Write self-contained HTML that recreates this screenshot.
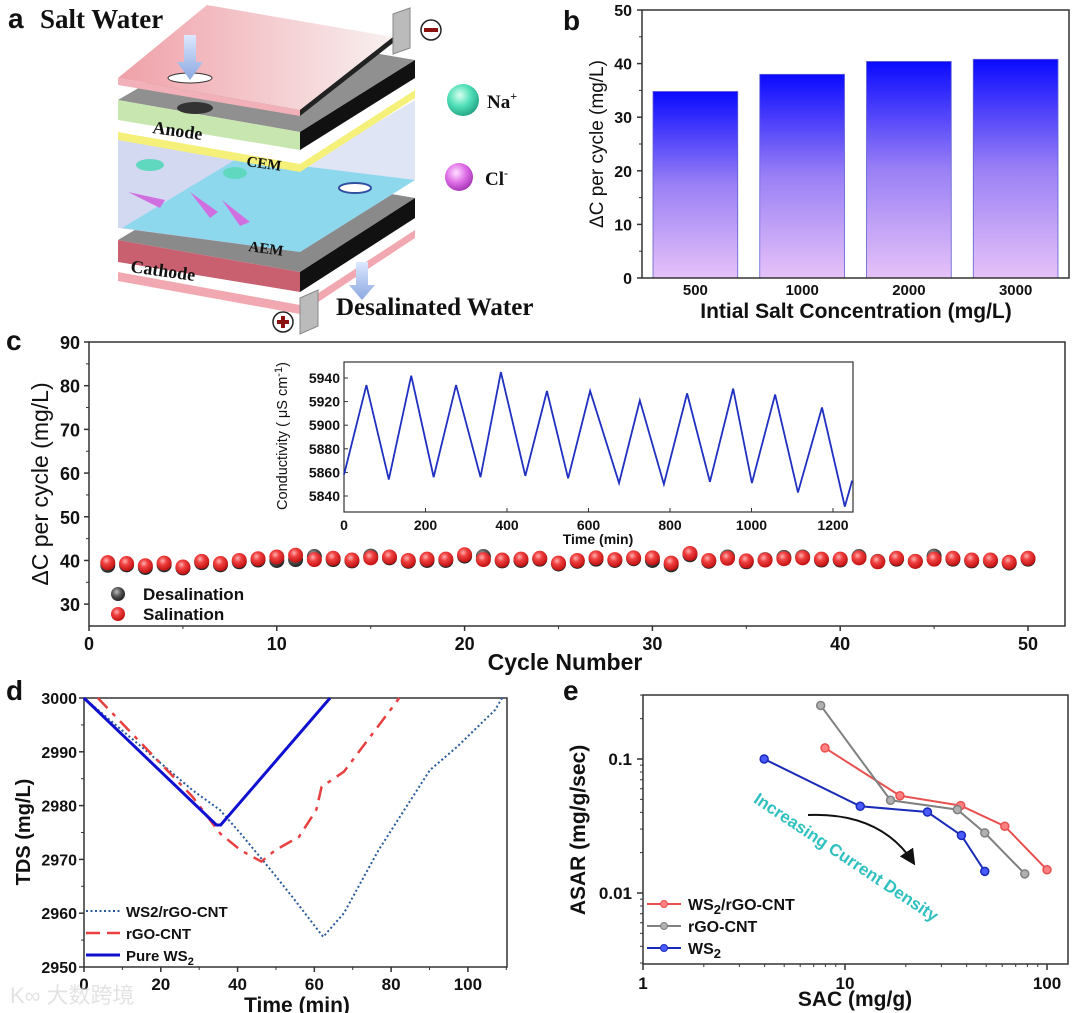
<!DOCTYPE html>
<html><head><meta charset="utf-8"><style>
html,body{margin:0;padding:0;background:#fff}
svg{display:block;font-family:"Liberation Sans",Arial,sans-serif}
.t{font-weight:bold;fill:#111}
.serif{font-family:"Liberation Serif",serif;font-weight:bold;fill:#111}
</style></head><body>
<svg id="s" width="1080" height="1013" viewBox="0 0 1080 1013">
<defs>
<linearGradient id="barg" x1="0" y1="0" x2="0" y2="1"><stop offset="0" stop-color="#0a0aff"/><stop offset="0.5" stop-color="#9a80f5"/><stop offset="1" stop-color="#e6c2f8"/></linearGradient>
<radialGradient id="redb" cx="0.4" cy="0.35" r="0.65"><stop offset="0" stop-color="#ffb0b0"/><stop offset="0.4" stop-color="#f04040"/><stop offset="1" stop-color="#c01010"/></radialGradient>
<radialGradient id="grayb" cx="0.4" cy="0.35" r="0.65"><stop offset="0" stop-color="#bbb"/><stop offset="0.5" stop-color="#555"/><stop offset="1" stop-color="#222"/></radialGradient>
<radialGradient id="nab" cx="0.4" cy="0.35" r="0.7"><stop offset="0" stop-color="#d8fff0"/><stop offset="0.5" stop-color="#50e0b8"/><stop offset="1" stop-color="#20a080"/></radialGradient>
<radialGradient id="clb" cx="0.4" cy="0.35" r="0.7"><stop offset="0" stop-color="#ffe0ff"/><stop offset="0.5" stop-color="#e070e8"/><stop offset="1" stop-color="#a030b0"/></radialGradient>
<linearGradient id="pinkg" x1="0" y1="0" x2="1" y2="0"><stop offset="0" stop-color="#f0a0a8"/><stop offset="1" stop-color="#f8f0f0"/></linearGradient>
<linearGradient id="arrg" x1="0" y1="0" x2="0" y2="1"><stop offset="0" stop-color="#dde8ff"/><stop offset="1" stop-color="#8aa8e0"/></linearGradient>
<marker id="ah" markerWidth="8" markerHeight="8" refX="6" refY="4" orient="auto"><path d="M0,0 L8,4 L0,8 Z" fill="#111"/></marker>
</defs>

<g>
<text x="8" y="28" class="t" font-size="28">a</text>
<text x="40" y="28" class="serif" font-size="27">Salt Water</text>
<polygon points="118,272 300,305 415,230 415,238 300,314 118,281" fill="#f2a8b0"/>
<polygon points="118,240 300,272 415,198 238,168" fill="#8a8a8a"/>
<polygon points="118,240 300,272 300,292 118,262" fill="#c86070"/>
<polygon points="300,272 415,198 415,218 300,292" fill="#111"/>
<polygon points="118,140 300,168 300,252 118,228" fill="#c8d0ee" opacity="0.8"/>
<polygon points="300,168 415,100 415,180 300,252" fill="#dde2f5" opacity="0.9"/>
<polygon points="122,228 300,252 415,180 238,158" fill="#8ed8ee"/>
<ellipse cx="355" cy="188" rx="16" ry="5" fill="#fff" stroke="#3050a0" stroke-width="2"/>
<text x="248" y="251" class="serif" font-size="15" transform="rotate(8 248 251)">AEM</text>
<polygon points="118,132 300,164 415,90 415,98 300,172 118,140" fill="#f5f07a"/>
<text x="246" y="166" class="serif" font-size="15" transform="rotate(8 246 166)">CEM</text>
<polygon points="118,100 300,132 415,60 238,30" fill="#909090"/>
<polygon points="118,100 300,132 300,150 118,120" fill="#c8e6b0"/>
<polygon points="300,132 415,60 415,78 300,150" fill="#111"/>
<ellipse cx="195" cy="108" rx="18" ry="6" fill="#333"/>
<text x="152" y="133" class="serif" font-size="18" transform="rotate(8 152 133)">Anode</text>
<text x="130" y="272" class="serif" font-size="18" transform="rotate(8 130 272)">Cathode</text>
<ellipse cx="150" cy="165" rx="14" ry="6" fill="#60d8c0"/>
<ellipse cx="235" cy="173" rx="12" ry="6" fill="#60d8c0"/>
<path d="M128,192 L165,200 L160,208 Z" fill="#d070e0"/>
<path d="M190,192 L218,212 L210,218 Z" fill="#d070e0"/>
<path d="M222,200 L250,222 L240,226 Z" fill="#d070e0"/>
<polygon points="118,78 300,110 393,37 207,5" fill="url(#pinkg)"/>
<polygon points="118,78 300,110 300,116 118,85" fill="#f2b0b8"/>
<polygon points="300,110 393,37 393,43 300,116" fill="#222"/>
<ellipse cx="190" cy="78" rx="22" ry="5" fill="#fff" stroke="#333"/>
<polygon points="184,35 196,35 196,62 203,62 190,80 177,62 184,62" fill="url(#arrg)"/>
<polygon points="356,262 368,262 368,285 375,285 362,300 349,285 356,285" fill="url(#arrg)"/>
<polygon points="393,14 410,8 410,48 393,54" fill="#bbb" stroke="#888"/>
<circle cx="431" cy="30" r="10" fill="#fff" stroke="#222" stroke-width="1.5"/>
<rect x="424" y="28" width="14" height="4" fill="#8b1010"/>
<polygon points="300,298 318,290 318,326 300,334" fill="#bbb" stroke="#888"/>
<circle cx="283" cy="322" r="10" fill="#fff" stroke="#222" stroke-width="1.5"/>
<rect x="277" y="320" width="12" height="4" fill="#8b1010"/><rect x="281" y="316" width="4" height="12" fill="#8b1010"/>
<text x="336" y="315" class="serif" font-size="25">Desalinated Water</text>
<circle cx="463" cy="100" r="16" fill="url(#nab)"/>
<text x="487" y="108" class="serif" font-size="19" font-weight="normal">Na<tspan font-size="12" dy="-8">+</tspan></text>
<circle cx="459" cy="177" r="14" fill="url(#clb)"/>
<text x="485" y="185" class="serif" font-size="19" font-weight="normal">Cl<tspan font-size="12" dy="-8">-</tspan></text>
</g>

<g id="pb"></g>
<g id="pc"></g>
<g id="pd"></g>
<g id="pe"></g>
<text x="10" y="1003" font-size="22" fill="#ddd" opacity="0.8" font-family="'Liberation Sans','Noto Sans CJK SC',sans-serif">K∞ 大数跨境</text>
</svg>
<script>
const bCategories = ["500","1000","2000","3000"];
const bValues = [34.8, 38.0, 40.4, 40.8];
const bTicks = [0,10,20,30,40,50];

const cCycles = [1,2,3,4,5,6,7,8,9,10,11,12,13,14,15,16,17,18,19,20,21,22,23,24,25,26,27,28,29,30,31,32,33,34,35,36,37,38,39,40,41,42,43,44,45,46,47,48,49,50];
const cSalination = [39.5,39.3,38.8,39.4,38.5,39.8,39.3,40.0,40.4,40.8,41.2,40.2,40.5,40.1,40.6,40.8,40.0,40.3,40.3,41.3,40.2,40.1,40.3,40.5,39.4,40.0,40.6,40.2,40.6,40.6,39.4,41.6,40.0,40.5,39.9,40.1,40.4,40.6,40.3,40.3,40.6,39.7,40.5,39.8,40.3,40.5,40.1,40.1,39.6,40.5];
const cDesalination = [38.9,39.0,38.4,39.0,38.3,39.5,39.0,39.7,40.1,40.0,40.2,40.9,40.2,39.9,41.0,40.6,39.8,40.0,40.0,41.0,40.9,39.9,40.0,40.3,39.2,39.8,40.3,40.0,40.4,40.0,39.0,41.3,39.8,40.8,39.7,40.2,40.7,40.8,40.1,40.1,40.9,39.8,40.3,39.8,41.0,40.3,39.9,39.9,39.4,40.3];
const cTicksY = [30,40,50,60,70,80,90];
const cTicksX = [0,10,20,30,40,50];

const insetTime = [0,55,110,165,220,275,335,385,445,498,550,604,675,726,785,842,898,955,1001,1058,1114,1173,1229,1247];
const insetCond = [5858,5934,5854,5942,5856,5934,5856,5945,5857,5929,5855,5929,5851,5921,5850,5927,5852,5931,5851,5926,5843,5915,5831,5853];
const insetTicksY = [5840,5860,5880,5900,5920,5940];
const insetTicksX = [0,200,400,600,800,1000,1200];

const dWsT = [0,28.2,35.4,40.8,48,54.3,62.3,67.7,76.7,90.1,97.3,107.1,108.9];
const dWsV = [3000,2982.9,2979.2,2974.8,2968.6,2963,2955.6,2960,2971.7,2986.6,2991,2997.8,3000];
const dRgoT = [3.6,28.2,35.5,40.8,46.2,49.8,56.0,60.5,61.9,67.7,81.2,82.1];
const dRgoV = [3000,2981.7,2974.8,2971.7,2969.6,2971.7,2974.2,2979.2,2983.5,2986.3,2999.1,3000];
const dPureT = [0,34.5,35.6,64.1];
const dPureV = [3000,2976.4,2976.4,3000];
const dTicksY = [2950,2960,2970,2980,2990,3000];
const dTicksX = [0,20,40,60,80,100];

const eRedX = [7.96,18.7,37.4,61.8,100];
const eRedY = [0.121,0.0532,0.0449,0.0315,0.0149];
const eGrayX = [7.58,16.8,36.0,49.2,77.6];
const eGrayY = [0.251,0.0492,0.0419,0.0281,0.0139];
const eBlueX = [3.98,11.9,25.6,37.7,49.2];
const eBlueY = [0.1,0.0444,0.0402,0.0269,0.0145];
const eTicksX = [1,10,100];
const eTicksY = [0.01,0.1];

const NS="http://www.w3.org/2000/svg";
function mk(parent,tag,attrs,txt){const e=document.createElementNS(NS,tag);for(const k in attrs)e.setAttribute(k,attrs[k]);if(txt!==undefined)e.textContent=txt;parent.appendChild(e);return e;}

(function(){
const g=document.getElementById('pb');
const L=642,T=10,R=1069,B=278;
const y=v=>B-(v/50)*(B-T);
const bw=(R-L)/4;
let e=mk(g,'text',{x:563,y:30,'font-size':28,class:'t'},'b');


bCategories.forEach((c,i)=>{
 const x0=L+11+i*bw, w=bw-22;
 const r=mk(g,'rect',{x:x0,y:y(bValues[i]),width:w,height:B-y(bValues[i]),fill:'url(#barg)',stroke:'#6060d0','stroke-width':0.8});
 
 
 const t=mk(g,'text',{x:x0+w/2,y:B+17,'font-size':15,class:'t','text-anchor':'middle'},c);
 
 
});
const fr=mk(g,'rect',{x:L,y:T,width:R-L,height:B-T,fill:'none',stroke:'#333','stroke-width':1.5});


bTicks.forEach(v=>{
 mk(g,'line',{x1:L-5,x2:L,y1:y(v),y2:y(v),stroke:'#333','stroke-width':1.5});
 if(v<50) mk(g,'line',{x1:L-3,x2:L,y1:y(v+5),y2:y(v+5),stroke:'#333'});
 const t=mk(g,'text',{x:L-10,y:y(v)+6,'font-size':16,class:'t','text-anchor':'end'},v);
 
 
});
let xt=mk(g,'text',{x:856,y:318,'font-size':21,class:'t','text-anchor':'middle'},'Intial Salt Concentration (mg/L)');


let yt=mk(g,'text',{x:0,y:0,'font-size':19,fill:'#111','text-anchor':'middle',transform:'translate(603,144) rotate(-90)'},'ΔC per cycle (mg/L)');


})();

(function(){
const g=document.getElementById('pc');
const L=89,T=342,R=1065,B=626;
const x=v=>L+v*18.78;
const y=v=>B-(v-25)/65*(B-T);
let e=mk(g,'text',{x:6,y:350,'font-size':28,class:'t'},'c');


const fr=mk(g,'rect',{x:L,y:T,width:R-L,height:B-T,fill:'none',stroke:'#333','stroke-width':1.5});


cTicksY.forEach(v=>{
 mk(g,'line',{x1:L-5,x2:L,y1:y(v),y2:y(v),stroke:'#333','stroke-width':1.5});
 if(v<90) mk(g,'line',{x1:L-3,x2:L,y1:y(v+5),y2:y(v+5),stroke:'#333'});
 const t=mk(g,'text',{x:L-9,y:y(v)+7,'font-size':18,class:'t','text-anchor':'end'},v);
 
 
});
cTicksX.forEach(v=>{
 mk(g,'line',{x1:x(v),x2:x(v),y1:B,y2:B+5,stroke:'#333','stroke-width':1.5});
 if(v<50) mk(g,'line',{x1:x(v+5),x2:x(v+5),y1:B,y2:B+3,stroke:'#333'});
 const t=mk(g,'text',{x:x(v),y:B+24,'font-size':18,class:'t','text-anchor':'middle'},v);
 
 
});
let xt=mk(g,'text',{x:565,y:670,'font-size':23,class:'t','text-anchor':'middle'},'Cycle Number');


let yt=mk(g,'text',{x:0,y:0,'font-size':23,fill:'#111','text-anchor':'middle',transform:'translate(48,484) rotate(-90)'},'ΔC per cycle (mg/L)');


cCycles.forEach((c,i)=>{
 const d=mk(g,'circle',{cx:x(c),cy:y(cDesalination[i]),r:7.5,fill:'url(#grayb)'});
 
 
});
cCycles.forEach((c,i)=>{
 const d=mk(g,'circle',{cx:x(c),cy:y(cSalination[i]),r:7.5,fill:'url(#redb)'});
 
 
});
let l1=mk(g,'circle',{cx:118,cy:594,r:7,fill:'url(#grayb)'});


let l1t=mk(g,'text',{x:143,y:600,'font-size':17,class:'t'},'Desalination');


let l2=mk(g,'circle',{cx:118,cy:614,r:7,fill:'url(#redb)'});


let l2t=mk(g,'text',{x:143,y:620,'font-size':17,class:'t'},'Salination');


const iL=344,iT=362,iR=853,iB=512;
const ix=v=>iL+v*0.4075;
const iy=v=>496-(v-5840)*1.18;
const ifr=mk(g,'rect',{x:iL,y:iT,width:iR-iL,height:iB-iT,fill:'#fff',stroke:'#333','stroke-width':1.2});


insetTicksY.forEach(v=>{
 mk(g,'line',{x1:iL,x2:iL+4,y1:iy(v),y2:iy(v),stroke:'#333'});
 const t=mk(g,'text',{x:iL-4,y:iy(v)+5,'font-size':14,class:'t','text-anchor':'end'},v);
 
 
});
insetTicksX.forEach(v=>{
 mk(g,'line',{x1:ix(v),x2:ix(v),y1:iB,y2:iB-4,stroke:'#333'});
 const t=mk(g,'text',{x:ix(v),y:iB+18,'font-size':14,class:'t','text-anchor':'middle'},v);
 
 
});
let ipl=mk(g,'polyline',{points:insetTime.map((t,i)=>ix(t)+','+iy(insetCond[i])).join(' '),fill:'none',stroke:'#2030c0','stroke-width':1.8});


let ixt=mk(g,'text',{x:598,y:544,'font-size':14,class:'t','text-anchor':'middle'},'Time (min)');


let iyt=mk(g,'text',{x:0,y:0,'font-size':14.5,fill:'#111','text-anchor':'middle',transform:'translate(287,436) rotate(-90)'});
iyt.innerHTML='Conductivity ( μS cm<tspan dy="-5" font-size="11">-1</tspan><tspan dy="5">)</tspan>';


})();

(function(){
const g=document.getElementById('pd');
const L=84,T=698,R=507,B=967;
const x=v=>L+v*3.839;
const y=v=>T+(3000-v)*(B-T)/50;
let e=mk(g,'text',{x:6,y:700,'font-size':28,class:'t'},'d');


const fr=mk(g,'rect',{x:L,y:T,width:R-L,height:B-T,fill:'none',stroke:'#333','stroke-width':1.5});


dTicksY.forEach(v=>{
 mk(g,'line',{x1:L-5,x2:L,y1:y(v),y2:y(v),stroke:'#333','stroke-width':1.5});
 if(v<3000) mk(g,'line',{x1:L-3,x2:L,y1:y(v+5),y2:y(v+5),stroke:'#333'});
 const t=mk(g,'text',{x:L-7,y:y(v)+6,'font-size':16,class:'t','text-anchor':'end'},v);
 
 
});
dTicksX.forEach(v=>{
 mk(g,'line',{x1:x(v),x2:x(v),y1:B,y2:B+5,stroke:'#333','stroke-width':1.5});
 mk(g,'line',{x1:x(v+10),x2:x(v+10),y1:B,y2:B+3,stroke:'#333'});
 const t=mk(g,'text',{x:x(v),y:B+23,'font-size':17,class:'t','text-anchor':'middle'},v);
 
 
});
let xt=mk(g,'text',{x:297,y:1012,'font-size':21,class:'t','text-anchor':'middle'},'Time (min)');


let yt=mk(g,'text',{x:0,y:0,'font-size':20,class:'t','text-anchor':'middle',transform:'translate(30,832) rotate(-90)'},'TDS (mg/L)');


const pts=(a,b)=>a.map((t,i)=>x(t)+','+y(b[i])).join(' ');
let s1=mk(g,'polyline',{points:pts(dWsT,dWsV),fill:'none',stroke:'#2a5a9a','stroke-width':2,'stroke-dasharray':'2 2.5'});


let s2=mk(g,'polyline',{points:pts(dRgoT,dRgoV),fill:'none',stroke:'#e84040','stroke-width':2.5,'stroke-dasharray':'14 7 4 7'});


let s3=mk(g,'polyline',{points:pts(dPureT,dPureV),fill:'none',stroke:'#1010d0','stroke-width':3});


const leg=[['WS2/rGO-CNT','#2a5a9a','2 2.5',2],['rGO-CNT','#e84040','14 7',2.5],['Pure WS',"#1010d0",'',3]];
leg.forEach((l,i)=>{
 const yy=911+i*22;
 const ln=mk(g,'line',{x1:86,x2:120,y1:yy,y2:yy,stroke:l[1],'stroke-width':l[3],'stroke-dasharray':l[2]});
 
 
 const t=mk(g,'text',{x:126,y:yy+6,'font-size':15,class:'t'},l[0]);
 if(i===2){mk(t,'tspan',{dy:4,'font-size':11},'2');}
 
 
});
})();

(function(){
const g=document.getElementById('pe');
const L=643,T=695,R=1068,B=964;
const x=v=>L+Math.log10(v)*202;
const y=v=>759-(Math.log10(v)+1)*134;
let e=mk(g,'text',{x:563,y:700,'font-size':28,class:'t'},'e');


const fr=mk(g,'rect',{x:L,y:T,width:R-L,height:B-T,fill:'none',stroke:'#333','stroke-width':1.5});


eTicksX.forEach(v=>{
 mk(g,'line',{x1:x(v),x2:x(v),y1:B,y2:B+6,stroke:'#333','stroke-width':1.5});
 if(v<100) for(let k=2;k<10;k++) mk(g,'line',{x1:x(v*k),x2:x(v*k),y1:B,y2:B+3,stroke:'#333'});
 const t=mk(g,'text',{x:x(v),y:B+25,'font-size':17,class:'t','text-anchor':'middle'},v);
 
 
});
eTicksY.forEach(v=>{
 mk(g,'line',{x1:L-6,x2:L,y1:y(v),y2:y(v),stroke:'#333','stroke-width':1.5});
 const t=mk(g,'text',{x:L-11,y:y(v)+6,'font-size':17,class:'t','text-anchor':'end'},v);
 
 
});
[0.003,0.004,0.005,0.006,0.007,0.008,0.009,0.02,0.03,0.04,0.05,0.06,0.07,0.08,0.09,0.2,0.3].forEach(v=>{if(y(v)>=T)mk(g,'line',{x1:L-3,x2:L,y1:y(v),y2:y(v),stroke:'#333'});});
let xt=mk(g,'text',{x:855,y:1006,'font-size':21,class:'t','text-anchor':'middle'},'SAC (mg/g)');


let yt=mk(g,'text',{x:0,y:0,'font-size':21,class:'t','text-anchor':'middle',transform:'translate(585,830) rotate(-90)'},'ASAR (mg/g/sec)');


const series=[[eRedX,eRedY,'#e85050','#ff8080','ws2-rgo-cnt'],[eGrayX,eGrayY,'#808080','#b0b0b0','rgo-cnt'],[eBlueX,eBlueY,'#1a2ab8','#4a5aff','ws2']];
series.forEach(s=>{
 const pl=mk(g,'polyline',{points:s[0].map((v,i)=>x(v)+','+y(s[1][i])).join(' '),fill:'none',stroke:s[2],'stroke-width':2});
 
 
 s[0].forEach((v,i)=>{
  const c=mk(g,'circle',{cx:x(v),cy:y(s[1][i]),r:4,fill:s[3],stroke:s[2],'stroke-width':1.5});
  
  
 });
});
const leg=[['WS','#e85050','#ff8080','/rGO-CNT'],['rGO-CNT','#808080','#b0b0b0',''],['WS','#1a2ab8','#4a5aff','']];
leg.forEach((l,i)=>{
 const yy=904+i*22;
 const ln=mk(g,'line',{x1:647,x2:681,y1:yy,y2:yy,stroke:l[1],'stroke-width':2});
 
 
 const c=mk(g,'circle',{cx:664,cy:yy,r:3.5,fill:l[2],stroke:l[1]});
 
 
 const t=mk(g,'text',{x:688,y:yy+6,'font-size':16,class:'t'},l[0]);
 if(i!==1){mk(t,'tspan',{dy:4,'font-size':13},'2');if(l[3])mk(t,'tspan',{dy:-4},l[3]);}
 
 
});
let an=mk(g,'text',{x:0,y:0,'font-size':17,class:'t','text-anchor':'middle',fill:'#30c0c0',style:'fill:#30c0c0',transform:'translate(843,862) rotate(33.7)'},'Increasing Current Density');


let ar=mk(g,'path',{d:'M808,815 Q880,812 913,862',fill:'none',stroke:'#111','stroke-width':2,'marker-end':'url(#ah)'});


})();
</script>
</body></html>
